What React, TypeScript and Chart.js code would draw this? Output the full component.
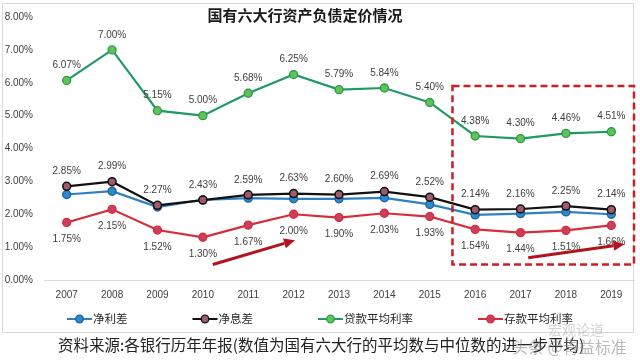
import React, { useEffect, useRef } from "react";
import { Chart, registerables } from "chart.js";

Chart.register(...registerables);

// ---------- data ----------
const years = ["2007", "2008", "2009", "2010", "2011", "2012", "2013", "2014", "2015", "2016", "2017", "2018", "2019"];
const netSpread = [2.6, 2.7, 2.22, 2.44, 2.49, 2.47, 2.47, 2.5, 2.3, 1.98, 2.02, 2.07, 2.0];
const netInterestMargin = [2.85, 2.99, 2.27, 2.43, 2.59, 2.63, 2.6, 2.69, 2.52, 2.14, 2.16, 2.25, 2.14];
const loanAvgRate = [6.07, 7.0, 5.15, 5.0, 5.68, 6.25, 5.79, 5.84, 5.4, 4.38, 4.3, 4.46, 4.51];
const depositAvgRate = [1.75, 2.15, 1.52, 1.3, 1.67, 2.0, 1.9, 2.03, 1.93, 1.54, 1.44, 1.51, 1.66];
const seriesNames = ["净利差", "净息差", "贷款平均利率", "存款平均利率"];
const yTickLabels = ["0.00%", "1.00%", "2.00%", "3.00%", "4.00%", "5.00%", "6.00%", "7.00%", "8.00%"];
const titleText = "国有六大行资产负债定价情况";
const sourceText = "资料来源:各银行历年年报(数值为国有六大行的平均数与中位数的进一步平均)";
const watermarkTop = "宏观论道";
const watermarkBottom = "头条 @青益标准";
// annotation anchors in data units (category index, percent)
const highlightBox = { fromIndex: 8.5, toIndex: 12.5, top: 5.9, bottom: 0.47 };
const arrows = [
  { x1: 3.22, y1: 0.47, x2: 5.03, y2: 1.21 },
  { x1: 10.17, y1: 0.68, x2: 12.29, y2: 1.09 },
];
const labelPlacement = [null, "above", "above", "below"];

const CJK = '"Noto Sans CJK SC", "Noto Sans", sans-serif';
const LATIN = '"Liberation Sans", Arial, sans-serif';

function drawArrow(ctx: CanvasRenderingContext2D, x1: number, y1: number, x2: number, y2: number, color: string) {
  const ang = Math.atan2(y2 - y1, x2 - x1);
  const headLen = 11;
  const headW = 5;
  const bx = x2 - headLen * Math.cos(ang);
  const by = y2 - headLen * Math.sin(ang);
  ctx.save();
  ctx.strokeStyle = color;
  ctx.fillStyle = color;
  ctx.lineWidth = 3;
  ctx.lineCap = "butt";
  ctx.beginPath();
  ctx.moveTo(x1, y1);
  ctx.lineTo(bx, by);
  ctx.stroke();
  ctx.beginPath();
  ctx.moveTo(x2, y2);
  ctx.lineTo(bx + headW * Math.sin(ang), by - headW * Math.cos(ang));
  ctx.lineTo(bx - headW * Math.sin(ang), by + headW * Math.cos(ang));
  ctx.closePath();
  ctx.fill();
  ctx.restore();
}

const decorPlugin = {
  id: "decor",
  beforeDraw(chart: any) {
    const { ctx, width, height } = chart;
    ctx.save();
    ctx.fillStyle = "#ffffff";
    ctx.fillRect(0, 0, width, height);
    ctx.strokeStyle = "#d9d9d9";
    ctx.lineWidth = 1;
    ctx.strokeRect(2.5, 3.5, 631, 329);
    ctx.restore();
  },
  afterDatasetsDraw(chart: any) {
    const { ctx } = chart;
    ctx.save();
    ctx.font = `10px ${LATIN}`;
    ctx.fillStyle = "#404040";
    ctx.textAlign = "center";
    ctx.textBaseline = "middle";
    chart.data.datasets.forEach((ds: any, i: number) => {
      const place = labelPlacement[i];
      if (!place) return;
      const meta = chart.getDatasetMeta(i);
      meta.data.forEach((pt: any, j: number) => {
        const v = ds.data[j] as number;
        const dy = place === "above" ? -15 : 17;
        ctx.fillText(v.toFixed(2) + "%", pt.x, pt.y + dy);
      });
    });
    ctx.restore();
  },
  afterDraw(chart: any) {
    const { ctx, chartArea } = chart;
    const xs = chart.scales.x;
    const ys = chart.scales.y;
    ctx.save();

    // title
    ctx.font = `bold 15px ${CJK}`;
    ctx.fillStyle = "#1a1a1a";
    ctx.textAlign = "center";
    ctx.textBaseline = "middle";
    ctx.fillText(titleText, 305, 15);

    // highlight dashed box
    const bl = xs.getPixelForValue(highlightBox.fromIndex);
    const br = Math.min(xs.getPixelForValue(highlightBox.toIndex), chartArea.right);
    const bt = ys.getPixelForValue(highlightBox.top);
    const bb = ys.getPixelForValue(highlightBox.bottom);
    ctx.strokeStyle = "#cc1f24";
    ctx.lineWidth = 2.5;
    ctx.setLineDash([7, 4]);
    ctx.strokeRect(bl, bt, br - bl, bb - bt);
    ctx.setLineDash([]);

    // arrows
    arrows.forEach((a) => {
      drawArrow(
        ctx,
        xs.getPixelForValue(a.x1),
        ys.getPixelForValue(a.y1),
        xs.getPixelForValue(a.x2),
        ys.getPixelForValue(a.y2),
        "#b3131d"
      );
    });

    // legend
    const legendY = 319;
    const lineLen = 25;
    const gap = 65;
    ctx.font = `11.5px ${CJK}`;
    const widths = seriesNames.map((n) => lineLen + 1 + ctx.measureText(n).width);
    const total = widths.reduce((a, b) => a + b, 0) + gap * (widths.length - 1);
    let lx = chart.width / 2 - total / 2;
    chart.data.datasets.forEach((ds: any, i: number) => {
      ctx.strokeStyle = ds.borderColor;
      ctx.lineWidth = 2;
      ctx.beginPath();
      ctx.moveTo(lx, legendY);
      ctx.lineTo(lx + lineLen, legendY);
      ctx.stroke();
      ctx.beginPath();
      ctx.arc(lx + lineLen / 2, legendY, 3.8, 0, Math.PI * 2);
      ctx.fillStyle = ds.pointBackgroundColor;
      ctx.fill();
      ctx.lineWidth = 1.3;
      ctx.strokeStyle = ds.pointBorderColor;
      ctx.stroke();
      ctx.fillStyle = "#262626";
      ctx.textAlign = "left";
      ctx.textBaseline = "middle";
      ctx.fillText(seriesNames[i], lx + lineLen + 1, legendY);
      lx += widths[i] + gap;
    });

    // source line
    ctx.font = `15.5px ${CJK}`;
    ctx.fillStyle = "#222222";
    ctx.textAlign = "left";
    ctx.textBaseline = "middle";
    ctx.fillText(sourceText, 58, 345);

    // watermark
    ctx.globalAlpha = 0.35;
    ctx.fillStyle = "#808080";
    ctx.font = `14px ${CJK}`;
    ctx.textAlign = "left";
    ctx.fillText(watermarkTop, 548, 330);
    ctx.globalAlpha = 0.55;
    ctx.font = `16px ${CJK}`;
    ctx.fillText(watermarkBottom, 512, 347);
    ctx.globalAlpha = 1;

    ctx.restore();
  },
};

export default function App() {
  const canvasRef = useRef<HTMLCanvasElement | null>(null);

  useEffect(() => {
    document.body.style.margin = "0";
    const canvas = canvasRef.current;
    if (!canvas) return;
    const chart = new Chart(canvas, {
      type: "line",
      data: {
        labels: years,
        datasets: [
          {
            label: seriesNames[0],
            data: netSpread,
            borderColor: "#2f7fc1",
            backgroundColor: "#2f7fc1",
            pointBackgroundColor: "#2e8ad0",
            pointBorderColor: "#1f5f99",
            borderWidth: 2.2,
            pointRadius: 4,
            pointBorderWidth: 1.3,
            order: 2,
          },
          {
            label: seriesNames[1],
            data: netInterestMargin,
            borderColor: "#111111",
            backgroundColor: "#111111",
            pointBackgroundColor: "#a05a6c",
            pointBorderColor: "#111111",
            borderWidth: 2.2,
            pointRadius: 4,
            pointBorderWidth: 1.5,
            order: 1,
          },
          {
            label: seriesNames[2],
            data: loanAvgRate,
            borderColor: "#1f9a66",
            backgroundColor: "#1f9a66",
            pointBackgroundColor: "#5fc25a",
            pointBorderColor: "#2f9a48",
            borderWidth: 2.2,
            pointRadius: 4,
            pointBorderWidth: 1.3,
            order: 3,
          },
          {
            label: seriesNames[3],
            data: depositAvgRate,
            borderColor: "#d62d3b",
            backgroundColor: "#d62d3b",
            pointBackgroundColor: "#c8405e",
            pointBorderColor: "#d62d3b",
            borderWidth: 2.2,
            pointRadius: 4,
            pointBorderWidth: 1.3,
            order: 4,
          },
        ],
      },
      options: {
        responsive: false,
        animation: false,
        layout: { padding: { top: 10, right: 6, bottom: 57, left: 0 } },
        plugins: {
          legend: { display: false },
          title: { display: false },
          tooltip: { enabled: false },
        },
        scales: {
          x: {
            type: "category",
            offset: true,
            grid: { display: false, drawTicks: false },
            border: { display: true, color: "#d9d9d9", width: 1 },
            ticks: {
              padding: 9,
              color: "#404040",
              font: { family: LATIN, size: 10 },
              maxRotation: 0,
              autoSkip: false,
            },
            afterFit: (s: any) => {
              s.height = 25;
            },
          },
          y: {
            min: 0,
            max: 8,
            grid: { display: false, drawTicks: false },
            border: { display: false },
            ticks: {
              stepSize: 1,
              padding: 11,
              color: "#404040",
              font: { family: LATIN, size: 10 },
              callback: (_v: any, idx: number) => yTickLabels[idx],
            },
            afterFit: (s: any) => {
              s.width = 44;
            },
          },
        },
      },
      plugins: [decorPlugin],
    });
    return () => chart.destroy();
  }, []);

  return (
    <div style={{ position: "relative", width: 640, height: 362 }}>
      <canvas ref={canvasRef} width={640} height={362} style={{ display: "block" }} />
    </div>
  );
}
